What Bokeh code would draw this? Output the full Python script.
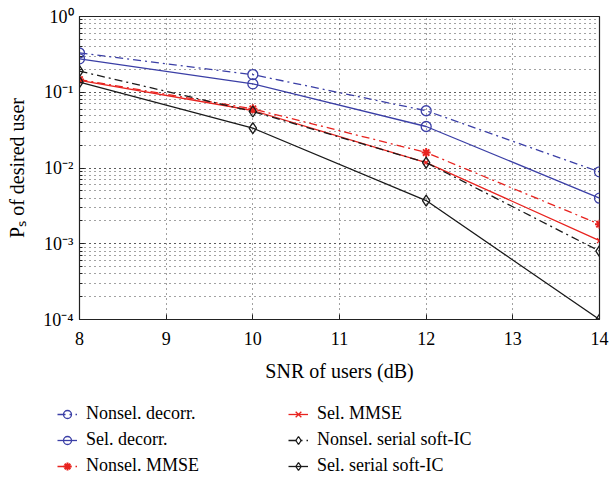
from bokeh.plotting import figure
from bokeh.layouts import column, row
from bokeh.models import (Legend, LegendItem, SingleIntervalTicker,
                          CustomJSTickFormatter, Range1d)
from bokeh.embed import file_html
from bokeh.resources import INLINE

snr = [8, 10, 12, 14]
nonsel_decorr = [0.33, 0.171, 0.057, 0.0089]
sel_decorr = [0.276, 0.129, 0.0353, 0.0040]
nonsel_mmse = [0.147, 0.0604, 0.016, 0.00181]
sel_mmse = [0.143, 0.0574, 0.0118, 0.0011]
nonsel_sic = [0.19, 0.0557, 0.0118, 0.00080]
sel_sic = [0.136, 0.0336, 0.00372, 0.0001]

BLUE = "#3b3fa6"
RED = "#e8231f"
BLACK = "#1a1a1a"
FONT = "Liberation Serif"

p = figure(frame_width=520, frame_height=303,
           y_axis_type="log", x_range=Range1d(8, 14), y_range=Range1d(1e-4, 1),
           output_backend="svg", toolbar_location=None,
           min_border_left=79, min_border_right=10, min_border_top=16, min_border_bottom=70)

p.outline_line_color = "#222222"
p.outline_line_width = 1.2

p.xaxis.ticker = SingleIntervalTicker(interval=1, num_minor_ticks=0)
p.xaxis.axis_label = "SNR of users (dB)"
p.yaxis.axis_label = "Pₛ of desired user"
p.yaxis.formatter = CustomJSTickFormatter(code="""
const e = Math.round(Math.log10(tick));
const sup = {"-":"\u207b","0":"\u2070","1":"\u00b9","2":"\u00b2","3":"\u00b3","4":"\u2074","5":"\u2075","6":"\u2076","7":"\u2077","8":"\u2078","9":"\u2079"};
return "10" + String(e).split("").map(c => sup[c]).join("");
""")

for ax in [p.xaxis[0], p.yaxis[0]]:
    ax.axis_label_text_font = FONT
    ax.axis_label_text_font_style = "normal"
    ax.axis_label_text_font_size = "20px"
    ax.axis_label_text_color = "black"
    ax.major_label_text_font = FONT
    ax.major_label_text_font_size = "18px"
    ax.major_label_text_color = "black"
    ax.major_tick_in = 5
    ax.major_tick_out = 0
    ax.minor_tick_in = 3
    ax.minor_tick_out = 0
    ax.axis_line_color = "#222222"
    ax.major_tick_line_color = "#222222"
    ax.minor_tick_line_color = "#222222"
p.xaxis.major_label_standoff = 12
p.xaxis.axis_label_standoff = 12
p.yaxis.major_label_standoff = 6
p.yaxis.axis_label_standoff = 12

p.xgrid.grid_line_color = "#444444"
p.xgrid.grid_line_dash = "1 4"
p.ygrid.grid_line_color = "#444444"
p.ygrid.grid_line_dash = "1 4"
p.ygrid.minor_grid_line_color = "#444444"
p.ygrid.minor_grid_line_dash = "1 4"

DD = "8 4 2 4"
series = [
    ("Nonsel. decorr.", nonsel_decorr, BLUE, DD, "circle", 10),
    ("Sel. decorr.", sel_decorr, BLUE, "solid", "circle", 10),
    ("Nonsel. MMSE", nonsel_mmse, RED, DD, "asterisk", 9),
    ("Sel. MMSE", sel_mmse, RED, "solid", "x", 7),
    ("Nonsel. serial soft-IC", nonsel_sic, BLACK, DD, "diamond", 11),
    ("Sel. serial soft-IC", sel_sic, BLACK, "solid", "diamond", 11),
]

# legend-only figure below the chart
p2 = figure(width=609, height=89, x_range=Range1d(0, 1), y_range=Range1d(0, 1),
            output_backend="svg", toolbar_location=None,
            x_axis_location=None, y_axis_location=None,
            min_border_left=0, min_border_right=0, min_border_top=0, min_border_bottom=0)
p2.outline_line_color = None
p2.xgrid.visible = False
p2.ygrid.visible = False

items = []
for label, ys, col, dash, mk, sz in series:
    lw = 2 if mk == "asterisk" else 1.3
    fc = col if mk == "asterisk" else None
    p.line(snr, ys, line_color=col, line_width=1.3, line_dash=dash)
    p.scatter(snr, ys, marker=mk, size=sz, line_color=col, fill_color=fc, line_width=lw)
    l2 = p2.line(snr, ys, line_color=col, line_width=1.3, line_dash=dash)
    s2 = p2.scatter(snr, ys, marker=mk, size=sz, line_color=col, fill_color=fc, line_width=lw)
    items.append(LegendItem(label=label, renderers=[l2, s2]))

def make_legend(its, loc):
    lg = Legend(items=its, location=loc, orientation="vertical")
    lg.label_text_font = FONT
    lg.label_text_font_size = "18px"
    lg.label_text_color = "black"
    lg.glyph_width = 20
    lg.glyph_height = 20
    lg.label_height = 20
    lg.spacing = 5
    lg.padding = 0
    lg.margin = 0
    lg.label_standoff = 9
    lg.border_line_color = None
    lg.background_fill_alpha = 0
    return lg

p2.add_layout(make_legend(items[:3], (57, 2)))
p2.add_layout(make_legend(items[3:], (288, 2)))

layout = column(p, row(p2), spacing=0)
open("out.html", "w").write(file_html(layout, INLINE))
